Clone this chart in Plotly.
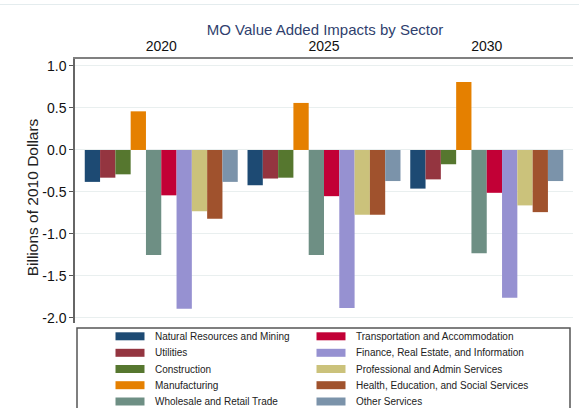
import plotly.graph_objects as go

# ---------------- data ----------------
years = ["2020", "2025", "2030"]
sectors = [
    "Natural Resources and Mining",
    "Utilities",
    "Construction",
    "Manufacturing",
    "Wholesale and Retail Trade",
    "Transportation and Accommodation",
    "Finance, Real Estate, and Information",
    "Professional and Admin Services",
    "Health, Education, and Social Services",
    "Other Services",
]
natural_resources = [-0.38, -0.42, -0.46]
utilities = [-0.33, -0.34, -0.35]
construction = [-0.29, -0.33, -0.17]
manufacturing = [0.46, 0.56, 0.81]
wholesale_retail = [-1.25, -1.25, -1.23]
transportation = [-0.54, -0.55, -0.51]
finance = [-1.89, -1.88, -1.76]
professional = [-0.73, -0.77, -0.66]
health_education = [-0.82, -0.77, -0.74]
other_services = [-0.38, -0.37, -0.37]

series_values = [natural_resources, utilities, construction, manufacturing,
                 wholesale_retail, transportation, finance, professional,
                 health_education, other_services]

colors = ["#1d4a73", "#943540", "#56772f", "#e58000", "#6e8f84",
          "#c20036", "#9691d1", "#cbc27b", "#a0522d", "#7b93aa"]

y_tick_vals = [1.0, 0.5, 0.0, -0.5, -1.0, -1.5, -2.0]
y_tick_text = ["1.0", "0.5", "0.0", "-0.5", "-1.0", "-1.5", "-2.0"]

# ---------------- layout geometry (pixels) ----------------
W, H = 579, 408
ML, MR, MT, MB = 75, 6, 59, 85
PW = W - ML - MR
PH = H - MT - MB
FONT = "Liberation Sans, Arial, sans-serif"


def px_x(x):
    return (x - ML) / PW


def px_y(y):
    return (H - MB - y) / PH


fig = go.Figure()
for name, vals, col in zip(sectors, series_values, colors):
    fig.add_trace(go.Bar(x=years, y=vals, name=name, marker_color=col,
                         marker_line_width=0, showlegend=False))

# ---------------- manual legend ----------------
shapes = []
annotations = []
# legend frame
shapes.append(dict(type="rect", xref="paper", yref="paper",
                   x0=px_x(77), x1=px_x(570), y0=px_y(328), y1=px_y(420),
                   line=dict(color="#555555", width=1.5), fillcolor="rgba(0,0,0,0)"))
row_y = [336.3, 352.8, 369.0, 385.2, 401.5]
col_sym_x = [115.5, 316.5]
col_txt_x = [152.7, 353.7]
for i, (name, col) in enumerate(zip(sectors, colors)):
    c = i // 5
    r = i % 5
    yc = row_y[r]
    shapes.append(dict(type="rect", xref="paper", yref="paper",
                       x0=px_x(col_sym_x[c]), x1=px_x(col_sym_x[c] + 29),
                       y0=px_y(yc + 4), y1=px_y(yc - 4),
                       fillcolor=col, line=dict(width=0)))
    annotations.append(dict(text=name, xref="paper", yref="paper",
                            x=px_x(col_txt_x[c]), y=px_y(yc),
                            xanchor="left", yanchor="middle", showarrow=False,
                            font=dict(family=FONT, size=10, color="#222222")))

# faint line at very top
shapes.append(dict(type="line", xref="paper", yref="paper",
                   x0=px_x(0), x1=px_x(W), y0=px_y(4.5), y1=px_y(4.5),
                   line=dict(color="#e4ecee", width=1)))

# y-axis title
annotations.append(dict(text="Billions of 2010 Dollars", xref="paper", yref="paper",
                        x=px_x(32.3), y=px_y(197), xanchor="center", yanchor="middle",
                        textangle=-90, showarrow=False,
                        font=dict(family=FONT, size=15.5, color="#222222")))

fig.update_layout(
    width=W, height=H,
    margin=dict(l=ML, r=MR, t=MT, b=MB),
    paper_bgcolor="white", plot_bgcolor="white",
    font=dict(family=FONT, size=14, color="#222222"),
    title=dict(text="MO Value Added Impacts by Sector", x=325 / W, xanchor="center",
               y=1 - 30 / H, yanchor="middle",
               font=dict(family=FONT, size=15, color="#303f6e")),
    barmode="group", bargap=0.06, bargroupgap=0,
    shapes=shapes, annotations=annotations,
    xaxis=dict(type="category", side="top", range=[-0.53, 2.53],
               showline=True, linecolor="#808080", linewidth=2,
               ticks="", showgrid=False,
               tickfont=dict(family=FONT, size=14, color="#111111")),
    yaxis=dict(range=[-2.06, 1.083], tickvals=y_tick_vals, ticktext=y_tick_text,
               showline=True, linecolor="#666666", linewidth=1.5,
               ticks="outside", ticklen=4, tickcolor="#555555",
               showgrid=True, gridcolor="#e9efef", gridwidth=1, zeroline=False,
               tickfont=dict(family=FONT, size=14, color="#111111")),
)

fig.write_html("out.html",
               config={"displayModeBar": False},
               post_script="document.body.style.margin='0px';document.body.style.overflow='hidden';")
